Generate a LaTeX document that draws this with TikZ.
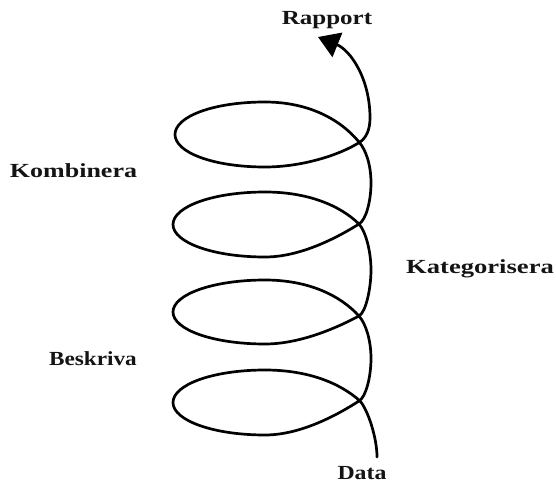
\documentclass[tikz,border=0pt]{standalone}
\usepackage{fontspec}
\setmainfont{Liberation Serif}
\usetikzlibrary{arrows.meta}
\newcommand\hsx[2]{\scalebox{#1}[1]{#2}}
\begin{document}
\begin{tikzpicture}[x=1pt,y=-1pt,
  lbl/.style={font=\fontsize{20}{24}\selectfont\bfseries, text=black!92, inner sep=0pt, anchor=base},
  spiral/.style={line width=2.7pt, line cap=round, line join=round,
                 -{Triangle[length=21pt,width=26pt]}}]
\useasboundingbox (0,0) rectangle (556,484);

% labels
\node[lbl] (rapport) at (327,25) {\hsx{1.25}{Rapport}};
\node[lbl] (komb) at (73.5,177) {\hsx{1.30}{Kombinera}};
\node[lbl] (kat) at (480,273) {\hsx{1.33}{Kategorisera}};
\node[lbl] (besk) at (93,365) {\hsx{1.16}{Beskriva}};
\node[lbl] (data) at (362,479) {\hsx{1.19}{Data}};

% spiral
\coordinate (start) at (377,457);
\coordinate (tip) at (318,37);
\draw[spiral] (start) .. controls (377,438) and (368,410) .. (360,401)
  \foreach \c/\n/\t/\b in {401/316/370/435, 316/224/280/344, 224/142/192/257}{
    .. controls (340,{\c+0.58*(\t-\c)}) and (308,\t) .. (265,\t)
    .. controls (213,\t) and (173,{(\t+\b)/2-0.55*(\b-\t)/2}) .. (173,{(\t+\b)/2})
    .. controls (173,{(\t+\b)/2+0.55*(\b-\t)/2}) and (213,\b) .. (265,\b)
    .. controls (302,\b) and (340,{\c+0.36*(\b-\c)}) .. (359,\c)
    .. controls (366,\c-4) and (371,{(\c+\n)/2+18}) .. (371,{(\c+\n)/2})
    .. controls (371,{(\c+\n)/2-18}) and (366,\n+8) .. (359,\n)
  }
  .. controls (340,119) and (308,102) .. (265,102)
  .. controls (213,102) and (175,116.6) .. (175,134.5)
  .. controls (175,152.4) and (213,167) .. (265,167)
  .. controls (302,167) and (340,155) .. (360,142)
  .. controls (366,138) and (370,130) .. (370,118)
  .. controls (370,78) and (350,50) .. (tip);
\end{tikzpicture}
\end{document}
